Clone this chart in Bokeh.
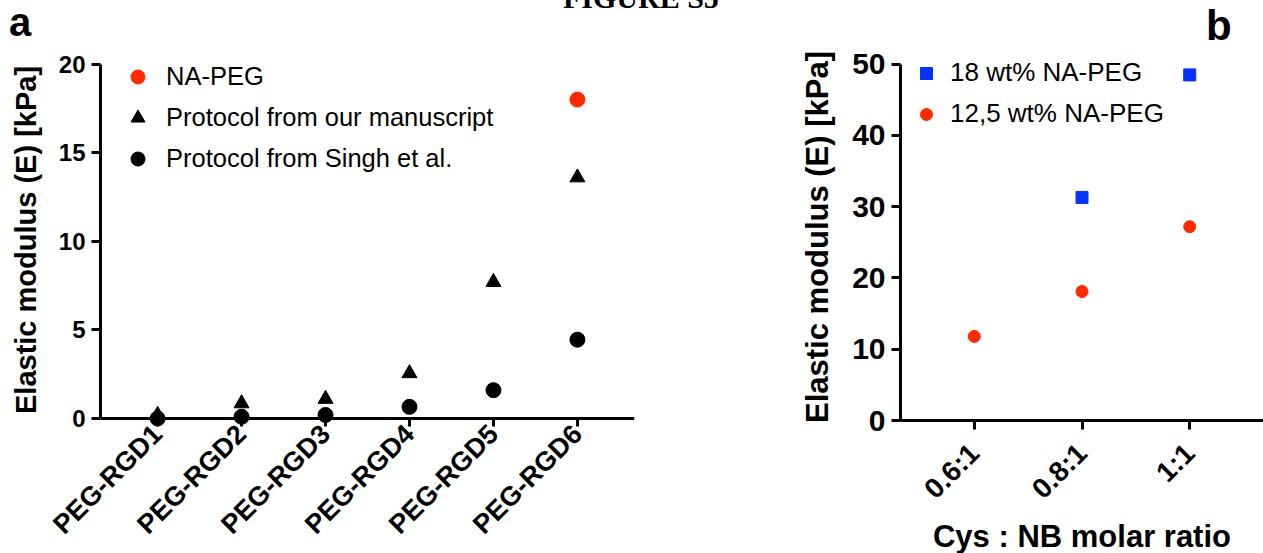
import math
from bokeh.plotting import figure
from bokeh.models import Range1d, FixedTicker, Legend, LegendItem, Span, Div
from bokeh.layouts import row, column
from bokeh.embed import file_html
from bokeh.resources import INLINE

# ---------------- data ----------------
a_categories = ["PEG-RGD1", "PEG-RGD2", "PEG-RGD3", "PEG-RGD4", "PEG-RGD5", "PEG-RGD6"]
a_na_peg_categories = ["PEG-RGD6"]
a_na_peg = [18.0]
a_manuscript = [0.2, 0.85, 1.1, 2.55, 7.7, 13.6]
a_singh = [0.0, 0.1, 0.2, 0.66, 1.6, 4.45]
a_yticks = [0, 5, 10, 15, 20]

b_categories = ["0.6:1", "0.8:1", "1:1"]
b_18_categories = ["0.8:1", "1:1"]
b_18 = [31.3, 48.5]
b_125_categories = ["0.6:1", "0.8:1", "1:1"]
b_125 = [11.8, 18.1, 27.2]
b_yticks = [0, 10, 20, 30, 40, 50]

RED = "#FF2A00"
BLUE = "#0433FF"
FONT = "Liberation Sans"
HEADER_H = 44


def pos(cats, allcats):
    return [allcats.index(c) + 1 for c in cats]


def style_axes(p, tick_font, xtick_font, label_font):
    for ax in (p.xaxis[0], p.yaxis[0]):
        ax.axis_line_width = 3
        ax.axis_line_color = "black"
        ax.major_tick_line_width = 3
        ax.major_tick_in = 0
        ax.major_tick_out = 9
        ax.minor_tick_line_color = None
        ax.major_label_text_font = FONT
        ax.major_label_text_font_style = "bold"
        ax.major_label_text_color = "black"
        ax.axis_label_text_font = FONT
        ax.axis_label_text_font_style = "bold"
        ax.axis_label_text_color = "black"
        ax.axis_label_text_font_size = label_font
    p.yaxis.major_label_text_font_size = tick_font
    p.xaxis.major_label_text_font_size = xtick_font
    p.xgrid.grid_line_color = None
    p.ygrid.grid_line_color = None
    p.outline_line_color = None


# ---------------- top strip: panel letters and cut-off page title ----------------
header = Div(width=1263, height=HEADER_H, margin=0, text=(
    '<div style="position:relative;width:1263px;height:%dpx;">'
    '<span style="position:absolute;left:9px;top:4px;font:bold 40px \'Liberation Sans\';line-height:36px;color:black;">a</span>'
    '<span style="position:absolute;left:563px;top:-17px;font:bold 30px \'Liberation Serif\';line-height:30px;color:black;">FIGURE S5</span>'
    '<span style="position:absolute;left:1206px;top:8px;font:bold 42px \'Liberation Sans\';line-height:36px;color:black;">b</span>'
    '</div>') % HEADER_H)

# ---------------- panel a ----------------
pa = figure(frame_width=534, frame_height=373, output_backend="svg", toolbar_location=None,
            x_range=Range1d(0.32, 6.68), y_range=Range1d(-0.45, 20.6),
            min_border_left=100, min_border_right=96, min_border_top=53 - HEADER_H,
            min_border_bottom=127)
style_axes(pa, "24px", "27px", "29px")
pa.yaxis.axis_label = "Elastic modulus (E) [kPa]"
pa.yaxis.ticker = FixedTicker(ticks=a_yticks)
pa.yaxis.bounds = (0, 20)
pa.yaxis.major_label_standoff = 6
pa.yaxis.axis_label_standoff = 14
pa.xaxis.ticker = FixedTicker(ticks=list(range(1, len(a_categories) + 1)))
pa.xaxis.major_label_overrides = {i + 1: c for i, c in enumerate(a_categories)}
pa.xaxis.major_label_orientation = math.pi / 4
pa.xaxis.axis_line_color = None
pa.xaxis.major_tick_in = 9
pa.xaxis.major_tick_out = 0
pa.xaxis.major_label_standoff = 3
pa.add_layout(Span(location=0, dimension="width", line_color="black", line_width=3))

xa = pos(a_categories, a_categories)
r_tri = pa.scatter(xa, a_manuscript, marker="triangle", size=15, color="black")
r_cir = pa.scatter(xa, a_singh, marker="circle", size=15, color="black")
r_red = pa.scatter(pos(a_na_peg_categories, a_categories), a_na_peg, marker="circle", size=15, color=RED)

leg_a = Legend(items=[LegendItem(label="NA-PEG", renderers=[r_red]),
                      LegendItem(label="Protocol from our manuscript", renderers=[r_tri]),
                      LegendItem(label="Protocol from Singh et al.", renderers=[r_cir])],
               location=(20, 250), glyph_width=35, glyph_height=35, label_height=35,
               spacing=6, label_standoff=11, padding=0, margin=0,
               border_line_alpha=0, background_fill_alpha=0,
               label_text_font=FONT, label_text_font_size="25.5px", label_text_color="black")
pa.add_layout(leg_a, "center")

# ---------------- panel b ----------------
pb = figure(frame_width=363, frame_height=367, output_backend="svg", toolbar_location=None,
            x_range=Range1d(0.315, 3.685), y_range=Range1d(0, 51.5),
            min_border_left=170, min_border_right=0, min_border_top=51 - HEADER_H,
            min_border_bottom=135)
style_axes(pb, "30px", "28px", "31px")
pb.yaxis.axis_label = "Elastic modulus (E) [kPa]"
pb.xaxis.axis_label = "Cys : NB molar ratio"
pb.yaxis.ticker = FixedTicker(ticks=b_yticks)
pb.yaxis.bounds = (0, 50)
pb.yaxis.major_label_standoff = 6
pb.yaxis.axis_label_standoff = 14
pb.xaxis.ticker = FixedTicker(ticks=list(range(1, len(b_categories) + 1)))
pb.xaxis.major_label_overrides = {i + 1: c for i, c in enumerate(b_categories)}
pb.xaxis.major_label_orientation = math.pi / 4
pb.xaxis.major_label_standoff = 19
pb.xaxis.axis_label_standoff = 0

r_sq = pb.scatter(pos(b_18_categories, b_categories), b_18, marker="square", size=12, color=BLUE)
r_rc = pb.scatter(pos(b_125_categories, b_categories), b_125, marker="circle", size=12, color=RED)

leg_b = Legend(items=[LegendItem(label="18 wt% NA-PEG", renderers=[r_sq]),
                      LegendItem(label="12,5 wt% NA-PEG", renderers=[r_rc])],
               location=(11, 291), glyph_width=30, glyph_height=30, label_height=30,
               spacing=10, label_standoff=9, padding=0, margin=0,
               border_line_alpha=0, background_fill_alpha=0,
               label_text_font=FONT, label_text_font_size="26px", label_text_color="black")
pb.add_layout(leg_b, "center")

layout = column(header, row(pa, pb))
open("out.html", "w").write(file_html(layout, INLINE))
